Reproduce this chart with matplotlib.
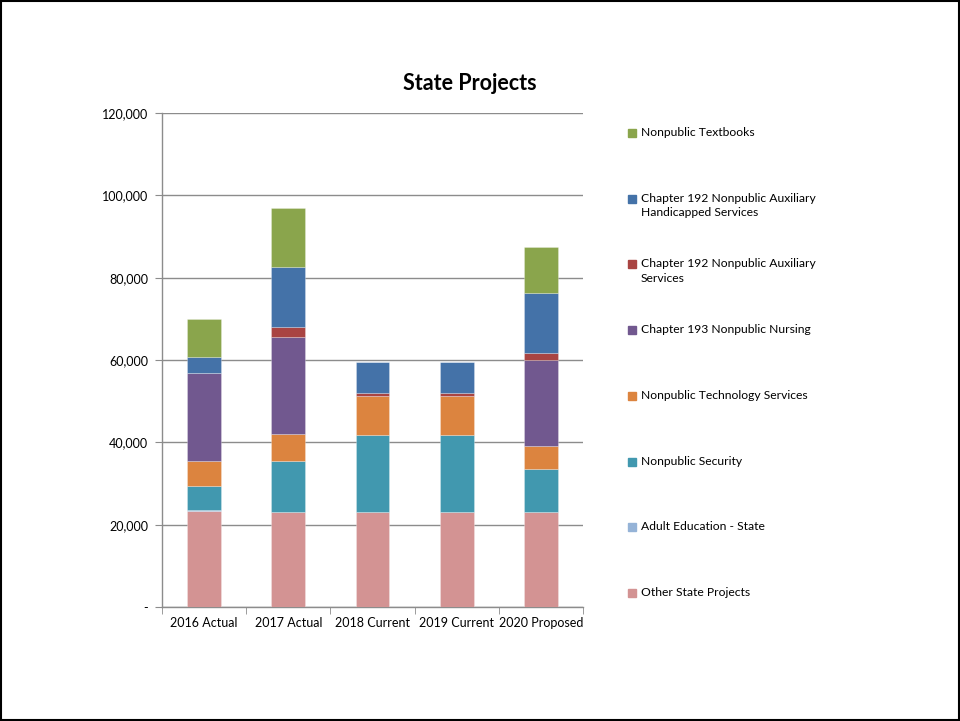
import numpy as np
import matplotlib.pyplot as plt
from matplotlib.patches import Rectangle
from matplotlib.ticker import FuncFormatter

plt.rcParams['font.family'] = ['Lato', 'DejaVu Sans']

years = ['2016 Actual', '2017 Actual', '2018 Current', '2019 Current', '2020 Proposed']
other_state = [23400, 23000, 23000, 23000, 23000]
adult_ed = [100, 0, 0, 0, 0]
security = [5960, 12540, 18860, 18860, 10600]
technology = [5930, 6480, 9390, 9390, 5580]
nursing = [21370, 23480, 0, 0, 20820]
ch192_aux = [0, 2430, 810, 810, 1620]
ch192_handicapped = [3960, 14650, 7530, 7530, 14730]
textbooks = [9160, 14410, 0, 0, 11010]

series = [
    ('Other State Projects', other_state, '#D39393'),
    ('Adult Education - State', adult_ed, '#95B3D7'),
    ('Nonpublic Security', security, '#4198AF'),
    ('Nonpublic Technology Services', technology, '#DC843F'),
    ('Chapter 193 Nonpublic Nursing', nursing, '#71588F'),
    ('Chapter 192 Nonpublic Auxiliary\nServices', ch192_aux, '#A94442'),
    ('Chapter 192 Nonpublic Auxiliary\nHandicapped Services', ch192_handicapped, '#4472A8'),
    ('Nonpublic Textbooks', textbooks, '#8AA54C'),
]

fig = plt.figure(figsize=(9.6, 7.21), dpi=100)
ax = fig.add_axes([162 / 960, 1 - 607 / 721, 421 / 960, 494 / 721])

x = np.arange(len(years))
bottom = np.zeros(len(years))
for name, vals, color in series:
    vals = np.array(vals, dtype=float)
    ax.bar(x, vals, width=0.4, bottom=bottom, color=color,
           edgecolor=(1, 1, 1, 0.45), linewidth=0.4, zorder=3)
    bottom += vals

ax.set_xlim(-0.5, len(years) - 0.5)
ax.set_ylim(0, 120000)
ax.set_yticks(np.arange(0, 120001, 20000))
ax.yaxis.set_major_formatter(FuncFormatter(lambda v, p: '-' if v == 0 else f'{int(v):,}'))
ax.grid(axis='y', color='#8C8C8C', linewidth=1.0, zorder=0)

ax.set_xticks(x)
ax.set_xticklabels(years)
ax.set_xticks(np.arange(-0.5, len(years)), minor=True)
ax.tick_params(axis='x', which='major', length=0, pad=7, labelsize=9, colors='black')
ax.tick_params(axis='x', which='minor', length=5, color='#8C8C8C')
ax.tick_params(axis='y', length=5, color='#8C8C8C', labelsize=9, pad=5)

for side in ['top', 'right']:
    ax.spines[side].set_visible(False)
for side in ['left', 'bottom']:
    ax.spines[side].set_color('#8C8C8C')
    ax.spines[side].set_linewidth(1.0)

fig.text(470 / 960, 1 - 83 / 721, 'State Projects', ha='center', va='center',
         fontsize=15.5, fontweight='bold')

# legend, drawn top to bottom in reverse stacking order
for i, (name, vals, color) in enumerate(reversed(series)):
    y = 1 - (133 + i * 65.7) / 721
    fig.patches.append(Rectangle((628 / 960, y - 4 / 721), 8 / 960, 8 / 721,
                                 transform=fig.transFigure, color=color))
    fig.text(641 / 960, y + 6 / 721, name, ha='left', va='top', fontsize=8.7,
             linespacing=1.35)

fig.patches.append(Rectangle((0.001, 0.001), 0.998, 0.997, transform=fig.transFigure,
                             fill=False, edgecolor='black', linewidth=1.5))

fig.savefig('out.png', dpi=100)
